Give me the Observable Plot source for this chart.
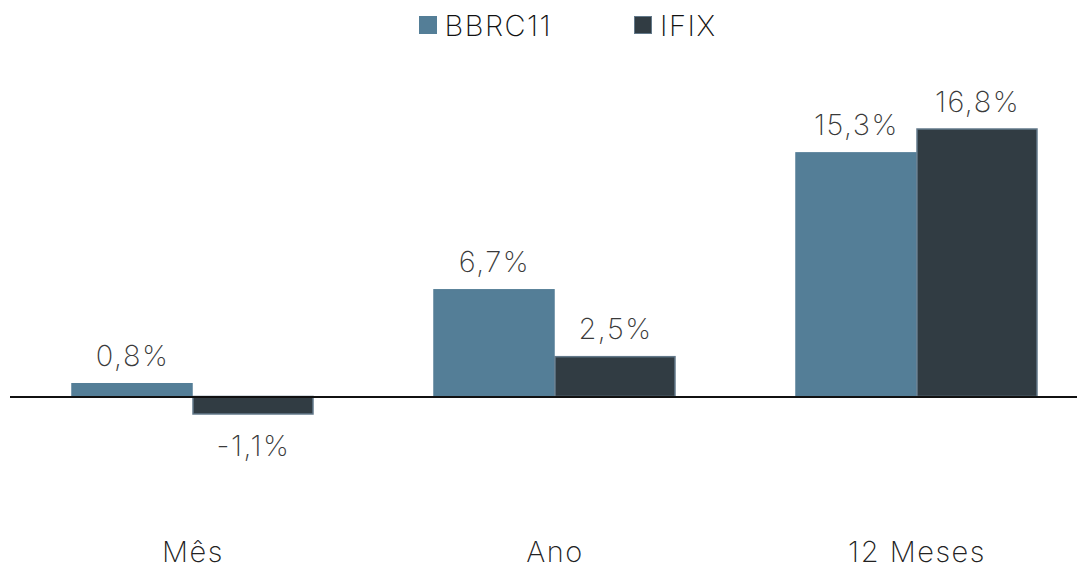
<!DOCTYPE html>
<html><head><meta charset="utf-8">
<script src="https://cdn.jsdelivr.net/npm/d3@7"></script>
<script src="https://cdn.jsdelivr.net/npm/@observablehq/plot@0.6"></script>
<style>
body{margin:0;background:#fff;font-family:Inter,"Noto Sans",sans-serif;}
#legend{height:50px;display:flex;justify-content:center;align-items:center;gap:82px;font-size:29px;letter-spacing:1.5px;font-weight:200;color:#111;padding-left:48px;box-sizing:border-box;}
#legend .it{display:flex;align-items:center;gap:8px;}
#legend .sw{width:18px;height:18px;box-sizing:border-box;}
</style></head>
<body>
<div id="legend"></div>
<div id="chart"></div>
<script>
const categories = ["Mês", "Ano", "12 Meses"];
const seriesNames = ["BBRC11", "IFIX"];
const bbrc11 = [0.8, 6.7, 15.3];
const ifix = [-1.1, 2.5, 16.8];
const colors = ["#547e97", "#313c43"];
const strokes = ["#547e97", "#63798a"];

const fmt = v => v.toFixed(1).replace(".", ",") + "%";
const dA = categories.map((c, i) => ({cat: c, series: seriesNames[0], value: bbrc11[i]}));
const dB = categories.map((c, i) => ({cat: c, series: seriesNames[1], value: ifix[i]}));

const leg = document.getElementById("legend");
seriesNames.forEach((s, i) => {
  const it = document.createElement("div"); it.className = "it";
  const sw = document.createElement("div"); sw.className = "sw";
  sw.style.background = colors[i]; sw.style.border = "1.5px solid " + strokes[i];
  const t = document.createElement("span"); t.textContent = s;
  it.append(sw, t); leg.append(it);
});

const half = 121; // half of the band: each series takes one half
const txt = (data, sideDx, pos) => Plot.text(data, {
  x: "cat", y: "value", text: d => fmt(d.value), dx: sideDx,
  lineAnchor: pos ? "bottom" : "top", dy: pos ? -18 : 21,
  fill: "#3a3a3a", fontSize: 29, fontWeight: 200
});

const chart = Plot.plot({
  width: 1087,
  height: 518,
  marginLeft: 22,
  marginRight: 0,
  marginTop: 79,
  marginBottom: 154,
  style: {fontFamily: "Inter, 'Noto Sans', sans-serif", fontSize: "29px", fontWeight: 200, color: "#3a3a3a", background: "#fff", letterSpacing: "1.5px"},
  x: {domain: categories, paddingInner: 0.333, paddingOuter: 0.135, label: null},
  y: {domain: d3.extent([...bbrc11, ...ifix]), nice: false, axis: null},
  marks: [
    Plot.barY(dA, {x: "cat", y: "value", fill: colors[0], stroke: strokes[0], strokeWidth: 1.5, insetRight: half}),
    Plot.barY(dB, {x: "cat", y: "value", fill: colors[1], stroke: strokes[1], strokeWidth: 1.5, insetLeft: half}),
    Plot.ruleY([0], {stroke: "#111", strokeWidth: 2, insetLeft: -12, insetRight: 10}),
    txt(dA.filter(d => d.value >= 0), -half / 2, true),
    txt(dA.filter(d => d.value < 0), -half / 2, false),
    txt(dB.filter(d => d.value >= 0), half / 2, true),
    txt(dB.filter(d => d.value < 0), half / 2, false),
    Plot.axisX({anchor: "bottom", tickSize: 0, tickPadding: 127, fontSize: 29, fontWeight: 200, label: null, fill: "#222"})
  ]
});
document.getElementById("chart").append(chart);
</script>
</body></html>
